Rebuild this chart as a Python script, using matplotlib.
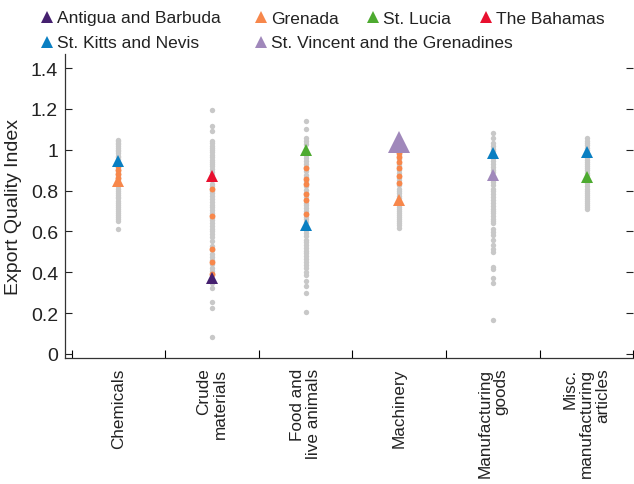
import numpy as np
import matplotlib
matplotlib.use("Agg")
import matplotlib.pyplot as plt
from matplotlib.lines import Line2D

plt.rcParams['font.family'] = ['Liberation Sans', 'DejaVu Sans']

# categories
categories = ["Chemicals", "Crude\nmaterials", "Food and\nlive animals", "Machinery",
              "Manufacturing\ngoods", "Misc.\nmanufacturing\narticles"]

# all other countries (grey dots), one list per category
chem_gray = [1.05, 1.045, 1.035, 1.03, 1.02, 1.01, 1.0, 0.995, 0.985, 0.97, 0.965, 0.955,
             0.94, 0.93, 0.925, 0.91, 0.9, 0.89, 0.88, 0.87, 0.86, 0.85, 0.84, 0.83,
             0.82, 0.81, 0.8, 0.79, 0.78, 0.77, 0.765, 0.75, 0.74, 0.73, 0.72, 0.71,
             0.7, 0.69, 0.68, 0.67, 0.66, 0.65, 0.61]
crude_gray = [1.195, 1.117, 1.092, 1.045, 1.035, 1.02, 1.01, 1.0, 0.99, 0.975, 0.965,
              0.95, 0.94, 0.93, 0.92, 0.905, 0.89, 0.875, 0.86, 0.85, 0.83, 0.82,
              0.8, 0.79, 0.775, 0.76, 0.745, 0.73, 0.72, 0.705, 0.69, 0.68, 0.665,
              0.655, 0.64, 0.625, 0.61, 0.6, 0.585, 0.57, 0.555, 0.53, 0.51, 0.49,
              0.475, 0.46, 0.44, 0.42, 0.405, 0.385, 0.36, 0.345, 0.324, 0.255,
              0.226, 0.083]
food_gray = [1.141, 1.1, 1.056, 1.043, 1.03, 0.975, 0.96, 0.945, 0.93, 0.915, 0.895,
             0.875, 0.865, 0.845, 0.82, 0.805, 0.79, 0.77, 0.74, 0.73, 0.715, 0.7,
             0.67, 0.66, 0.645, 0.62, 0.605, 0.59, 0.575, 0.56, 0.55, 0.535, 0.52,
             0.505, 0.495, 0.48, 0.465, 0.45, 0.435, 0.42, 0.4, 0.385, 0.355, 0.33,
             0.298, 0.205]
mach_gray = [1.0, 0.99, 0.975, 0.955, 0.93, 0.92, 0.9, 0.885, 0.86, 0.85, 0.825, 0.81,
             0.8, 0.79, 0.775, 0.765, 0.74, 0.73, 0.72, 0.71, 0.7, 0.69, 0.68, 0.67,
             0.66, 0.65, 0.64, 0.63, 0.615]
manuf_gray = [1.08, 1.059, 1.031, 1.02, 1.005, 0.995, 0.97, 0.96, 0.945, 0.93, 0.915,
              0.9, 0.89, 0.865, 0.85, 0.84, 0.825, 0.81, 0.8, 0.785, 0.77, 0.755,
              0.74, 0.725, 0.71, 0.7, 0.69, 0.675, 0.66, 0.65, 0.64, 0.61, 0.597,
              0.58, 0.556, 0.532, 0.516, 0.5, 0.426, 0.415, 0.373, 0.349, 0.165]
misc_gray = [1.056, 1.045, 1.035, 1.025, 1.01, 1.0, 0.98, 0.97, 0.96, 0.95, 0.94, 0.93,
             0.92, 0.91, 0.9, 0.885, 0.875, 0.855, 0.845, 0.835, 0.82, 0.81, 0.8,
             0.79, 0.78, 0.77, 0.76, 0.75, 0.74, 0.73, 0.72, 0.71]
gray_values = [chem_gray, crude_gray, food_gray, mach_gray, manuf_gray, misc_gray]

# Grenada sub-products (orange dots)
chem_gren = [0.92, 0.9, 0.88, 0.86]
crude_gren = [0.81, 0.674, 0.516, 0.45, 0.393]
food_gren = [0.909, 0.856, 0.83, 0.783, 0.752, 0.684]
mach_gren = [0.982, 0.963, 0.94, 0.91, 0.871, 0.838]
manuf_gren = []
misc_gren = []
gren_dots = [chem_gren, crude_gren, food_gren, mach_gren, manuf_gren, misc_gren]

# ECCU countries (triangles), NaN = not shown
nan = np.nan
countries = ["Antigua and Barbuda", "Grenada", "St. Lucia", "The Bahamas",
             "St. Kitts and Nevis", "St. Vincent and the Grenadines"]
antigua = [nan, 0.37, nan, nan, nan, nan]
grenada = [0.845, nan, nan, 0.755, nan, nan]
st_lucia = [nan, nan, 1.0, nan, nan, 0.864]
bahamas = [nan, 0.87, nan, nan, nan, nan]
st_kitts = [0.945, nan, 0.63, nan, 0.982, 0.99]
st_vincent = [nan, nan, nan, 1.04, 0.876, nan]
country_values = [antigua, grenada, st_lucia, bahamas, st_kitts, st_vincent]
colors = ["#45206f", "#f7874b", "#4daa30", "#e8102f", "#0a7fc2", "#a088bb"]

W, H = 634, 485
fig = plt.figure(figsize=(W / 100, H / 100), dpi=100)
ax = fig.add_axes([0.1025, 0.26, 0.8965, 0.627])

x = np.arange(len(categories)) + 0.5

for i, vals in enumerate(gray_values):
    ax.scatter(np.full(len(vals), x[i]), vals, s=15, color="#c8c8c8", lw=0, zorder=2)
for i, vals in enumerate(gren_dots):
    if len(vals):
        ax.scatter(np.full(len(vals), x[i]), vals, s=18, color="#f7874b", lw=0, zorder=3)

for name, vals, c in zip(countries, country_values, colors):
    for i, v in enumerate(vals):
        if np.isnan(v):
            continue
        # St. Vincent's machinery triangle is drawn larger
        ms = 16 if (name.startswith("St. Vincent") and i == 3) else 8.5
        ax.plot(x[i], v, marker="^", ms=ms, color=c, mew=0, ls="none", zorder=4)

ax.set_xlim(-0.07, 6)
ax.set_ylim(-0.02, 1.47)

ax.set_yticks(np.arange(0, 1.41, 0.2))
ax.set_yticklabels(["0", "0.2", "0.4", "0.6", "0.8", "1", "1.2", "1.4"])
ax.tick_params(axis="y", direction="in", length=5, width=0.8, labelsize=14, pad=5,
               colors="#222222")
ax.tick_params(axis="y", right=True, labelright=False)
for t in ax.yaxis.get_ticklines()[1::2]:
    t.set_color("#dddddd")

ax.set_xticks(x)
ax.set_xticklabels(categories, rotation=90, va="top", ha="center",
                   multialignment="right", fontsize=12.3, linespacing=1.08)
ax.set_xticks(np.arange(0, 7), minor=True)
ax.tick_params(axis="x", which="major", length=0, pad=7, colors="#222222")
ax.tick_params(axis="x", which="minor", direction="in", length=6, width=0.8)

for s in ["top", "right"]:
    ax.spines[s].set_visible(False)
for s in ["left", "bottom"]:
    ax.spines[s].set_linewidth(0.9)
    ax.spines[s].set_color("#333333")

ax.set_ylabel("Export Quality Index", fontsize=14, labelpad=6, color="#222222")

# legend laid out by hand, two rows as in the original
legend_pos = [(47, 18), (261, 18), (373, 18), (486, 18), (47, 43), (261, 43)]
for (px, py), name, c in zip(legend_pos, countries, colors):
    fig.add_artist(Line2D([px / W], [1 - py / H], transform=fig.transFigure,
                          marker="^", ms=8.5, color=c, mew=0, ls="none"))
    fig.text((px + 10) / W, 1 - (py + 1) / H, name, fontsize=12.5, va="center",
             ha="left", color="#222222")

fig.savefig("out.png", dpi=100)
